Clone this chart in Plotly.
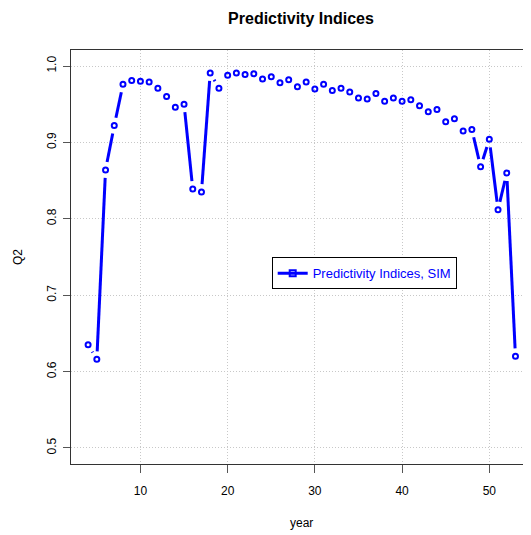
import plotly.graph_objects as go

years = list(range(4, 54))
q2 = [0.635, 0.616, 0.864, 0.922, 0.976, 0.981, 0.980, 0.979, 0.971, 0.960,
      0.946, 0.950, 0.839, 0.835, 0.991, 0.971, 0.988, 0.991, 0.989, 0.990,
      0.983, 0.986, 0.978, 0.982, 0.973, 0.979, 0.970, 0.976, 0.968, 0.971,
      0.966, 0.958, 0.957, 0.964, 0.954, 0.958, 0.954, 0.956, 0.948, 0.940,
      0.943, 0.927, 0.931, 0.915, 0.917, 0.868, 0.904, 0.812, 0.860, 0.620]
x_ticks = [10, 20, 30, 40, 50]
y_ticks = [0.5, 0.6, 0.7, 0.8, 0.9, 1.0]
series_name = "Predictivity Indices, SIM"

OFF = 8  # default page body margin
W, H = 531 - OFF, 535 - OFF
ML, MR, MT, MB = 71 - OFF, 0, 50 - OFF, 71
XR = [2.04, 54.78]
YR = [0.479, 1.021]
PW, PH = W - ML - MR, H - MT - MB
BLUE = "#0000FF"

# R type="b": line segments with gaps around each point (computed in pixel space)
sx = PW / (XR[1] - XR[0])
sy = PH / (YR[1] - YR[0])
gap = 8.0
seg_x, seg_y = [], []
for i in range(len(years) - 1):
    x1, y1 = years[i] * sx, q2[i] * sy
    x2, y2 = years[i + 1] * sx, q2[i + 1] * sy
    dx, dy = x2 - x1, y2 - y1
    d = (dx * dx + dy * dy) ** 0.5
    if d <= 2 * gap:
        continue
    ux, uy = dx / d, dy / d
    seg_x += [(x1 + ux * gap) / sx, (x2 - ux * gap) / sx, None]
    seg_y += [(y1 + uy * gap) / sy, (y2 - uy * gap) / sy, None]

fig = go.Figure()
fig.add_trace(go.Scatter(x=seg_x, y=seg_y, mode="lines",
                         line=dict(color=BLUE, width=3), showlegend=False,
                         hoverinfo="skip"))
fig.add_trace(go.Scatter(x=years, y=q2, mode="markers",
                         marker=dict(symbol="circle-open", size=5, color=BLUE,
                                     line=dict(width=2, color=BLUE)),
                         showlegend=False))
fig.add_trace(go.Scatter(x=[None], y=[None], mode="lines+markers", name=series_name,
                         line=dict(color=BLUE, width=3),
                         marker=dict(symbol="square-open", size=6, color=BLUE,
                                     line=dict(width=2, color=BLUE))))

axis_common = dict(showgrid=True, gridcolor="#c8c8c8", griddash="1px,2px", gridwidth=1,
                   zeroline=False, showline=True, linecolor="#333333", linewidth=1,
                   ticks="outside", tickcolor="#555555", tickwidth=1,
                   tickfont=dict(family="Liberation Sans, Arial", size=12, color="black"))

def px_to_paper_x(px):
    return (px - OFF - ML) / PW

def px_to_paper_y(py):
    return (MT + PH - (py - OFF)) / PH

fig.update_layout(
    width=W, height=H,
    margin=dict(l=ML, r=MR, t=MT, b=MB),
    paper_bgcolor="white", plot_bgcolor="white",
    font=dict(family="Liberation Sans, Arial", size=12, color="black"),
    title=dict(text="<b>Predictivity Indices</b>", x=0.5, xref="paper",
               y=1 - (18 - OFF) / H, yref="container", xanchor="center", yanchor="middle",
               font=dict(size=16, color="black")),
    xaxis=dict(range=XR, tickvals=x_ticks, ticklen=8, mirror=True,
               ticklabelstandoff=8, **axis_common),
    yaxis=dict(range=YR, tickvals=y_ticks, ticktext=[f"{v:.1f}" for v in y_ticks],
               ticklen=7, tickangle=-90, ticklabelstandoff=2, **axis_common),
    legend=dict(x=px_to_paper_x(271.7), y=px_to_paper_y(257.3), xanchor="left", yanchor="top",
                bgcolor="white", bordercolor="black", borderwidth=1,
                font=dict(color=BLUE, size=13)),
    annotations=[
        dict(text="year", x=0.5, xref="paper", y=px_to_paper_y(523), yref="paper",
             showarrow=False, xanchor="center", yanchor="middle", font=dict(size=12)),
        dict(text="Q2", x=px_to_paper_x(18), xref="paper", y=px_to_paper_y(257), yref="paper",
             showarrow=False, textangle=-90, xanchor="center", yanchor="middle",
             font=dict(size=12)),
    ],
)

fig.write_html("out.html")
